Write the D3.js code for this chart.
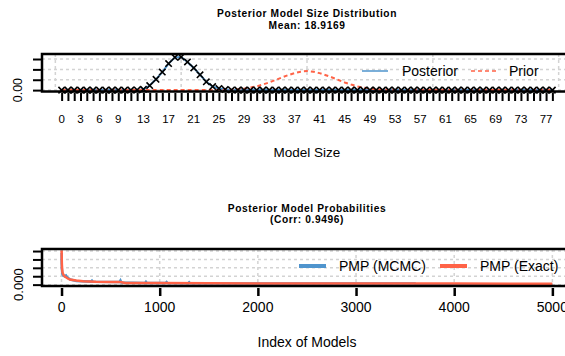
<!DOCTYPE html>
<html lang="en">

<head>
	<meta charset="utf-8">
	<title>BMS plot</title>
	<style>
		html, body { margin: 0; padding: 0; background: #ffffff; }
		svg { display: block; font-family: "Liberation Sans", Arial, sans-serif; }
	</style>
</head>

<body>
	<script src="https://cdn.jsdelivr.net/npm/d3@7"></script>
	<script>

		// top panel: model size 0..78
		const modelSizes = d3.range(0, 79);
		const posterior = [
			0, 0, 0, 0, 0, 0, 0, 0, 0, 0,
			0, 0.0002, 0.001, 0.004, 0.022, 0.052, 0.087, 0.128, 0.158, 0.160,
			0.136, 0.107, 0.074, 0.040, 0.017, 0.008, 0.003, 0.001, 0, 0,
			0, 0, 0, 0, 0, 0, 0, 0, 0, 0,
			0, 0, 0, 0, 0, 0, 0, 0, 0, 0,
			0, 0, 0, 0, 0, 0, 0, 0, 0, 0,
			0, 0, 0, 0, 0, 0, 0, 0, 0, 0,
			0, 0, 0, 0, 0, 0, 0, 0, 0
		];
		const prior = [
			0, 0, 0, 0, 0, 0, 0, 0, 0, 0,
			0, 0, 0, 0, 0, 0, 0, 0, 0, 0,
			0, 0, 0, 0, 0, 0, 0.001, 0.002, 0.004, 0.007,
			0.012, 0.018, 0.027, 0.037, 0.049, 0.061, 0.072, 0.082, 0.089, 0.092,
			0.089, 0.082, 0.072, 0.061, 0.049, 0.037, 0.027, 0.018, 0.012, 0.007,
			0.004, 0.002, 0.001, 0, 0, 0, 0, 0, 0, 0,
			0, 0, 0, 0, 0, 0, 0, 0, 0, 0,
			0, 0, 0, 0, 0, 0, 0, 0, 0
		];
		const sizeLabels = [0, 3, 6, 9, 13, 17, 21, 25, 29, 33, 37, 41, 45, 49, 53, 57, 61, 65, 69, 73, 77];
		const sizeYTicks = [0, 0.05, 0.10, 0.15];
		const sizeYMax = 0.1675;
		const sizeGridX = [-1, 19, 39, 59, 79];

		// bottom panel: model index 1..5000 (readings along the curve)
		const mcmcIndex = [1, 2, 4, 8, 15, 30, 45, 60, 90, 150, 300, 310, 320, 590, 600, 610, 850, 860, 870, 1060, 1070, 1080, 1290, 1300, 1310, 2000, 3000, 3600, 3610, 5000];
		const mcmcPmp = [0.019, 0.012, 0.009, 0.0065, 0.0055, 0.0050, 0.0055, 0.0042, 0.0030, 0.0022, 0.0018, 0.0024, 0.0017, 0.0015, 0.0025, 0.0012, 0.0010, 0.0017, 0.0010, 0.0009, 0.0015, 0.0009, 0.0008, 0.0014, 0.0008, 0.0007, 0.0006, 0.0006, 0, 0];
		const exactIndex = [1, 2, 3, 5, 10, 20, 35, 60, 85, 150, 220, 350, 500, 600, 650, 1000, 1500, 2000, 3000, 4000, 5000];
		const exactPmp = [0.0204, 0.016, 0.013, 0.010, 0.0072, 0.0058, 0.0048, 0.0038, 0.0030, 0.0024, 0.0020, 0.0017, 0.0016, 0.0015, 0.0010, 0.0009, 0.0008, 0.0007, 0.0006, 0.0006, 0.0005];
		const pmpXTicks = [0, 1000, 2000, 3000, 4000, 5000];
		const pmpYTicks = [0, 0.005, 0.010, 0.015, 0.020];
		const pmpYMax = 0.0204;

		const blue = "#4f94cd";
		const red = "#ff6347";
		const grid = "#d3d3d3";

		const W = 565, H = 356;
		const left = 42, right = 572;

		const svg = d3.select("body")
			.append("svg")
			.attr("width", W)
			.attr("height", H);

		function pad(lo, hi) {
			const r = hi - lo;
			return [lo - 0.04 * r, hi + 0.04 * r];
		}

		function title(lines, y1, y2) {
			lines.forEach((t, i) => {
				svg.append("text")
					.attr("x", (left + right) / 2)
					.attr("y", i === 0 ? y1 : y2)
					.attr("text-anchor", "middle")
					.attr("font-weight", "bold")
					.attr("font-size", "10.2px")
					.attr("letter-spacing", "0.6px")
					.text(t);
			});
		}

		function drawGrid(g, x, y, xs, ys, top, bottom) {
			g.selectAll("line.gx")
				.data(xs)
				.enter().append("line")
				.attr("class", "gx")
				.attr("x1", (d) => x(d)).attr("x2", (d) => x(d))
				.attr("y1", top).attr("y2", bottom)
				.attr("stroke", grid).attr("stroke-width", 1.5)
				.attr("stroke-dasharray", "3,3");
			g.selectAll("line.gy")
				.data(ys)
				.enter().append("line")
				.attr("class", "gy")
				.attr("x1", left).attr("x2", right)
				.attr("y1", (d) => y(d)).attr("y2", (d) => y(d))
				.attr("stroke", grid).attr("stroke-width", 1.5)
				.attr("stroke-dasharray", "3,3");
		}

		function styleAxis(g, w) {
			g.select(".domain").remove();
			g.selectAll(".tick line").attr("stroke", "#000").attr("stroke-width", w);
			g.selectAll(".tick text").remove();
		}

		function box(top, bottom) {
			svg.append("rect")
				.attr("x", left).attr("y", top)
				.attr("width", right - left).attr("height", bottom - top)
				.attr("fill", "none")
				.attr("stroke", "#000")
				.attr("stroke-width", 2.5);
		}

		// ---------------- top panel ----------------
		title(["Posterior Model Size Distribution", "Mean: 18.9169"], 16.8, 28.6);

		const t1 = 54, b1 = 91.5;
		const x1 = d3.scaleLinear().domain(pad(0, 78)).range([left, right]);
		const y1 = d3.scaleLinear().domain(pad(0, sizeYMax)).range([b1, t1]);

		const g1 = svg.append("g");
		drawGrid(g1, x1, y1, sizeGridX, sizeYTicks, t1, b1);

		const line1 = d3.line()
			.x((d, i) => x1(modelSizes[i]))
			.y((d) => y1(d));

		g1.append("path")
			.datum(posterior)
			.attr("d", line1)
			.attr("fill", "none")
			.attr("stroke", blue)
			.attr("stroke-width", 2);

		g1.append("path")
			.datum(prior)
			.attr("d", line1)
			.attr("fill", "none")
			.attr("stroke", red)
			.attr("stroke-width", 2)
			.attr("stroke-dasharray", "4,3");

		const s = 3.2;
		g1.selectAll("path.cross")
			.data(posterior)
			.enter().append("path")
			.attr("class", "cross")
			.attr("d", (d, i) => {
				const cx = x1(modelSizes[i]), cy = y1(d);
				return `M${cx - s},${cy - s}L${cx + s},${cy + s}M${cx - s},${cy + s}L${cx + s},${cy - s}`;
			})
			.attr("stroke", "#000")
			.attr("stroke-width", 1.6);

		svg.append("g")
			.attr("transform", "translate(0,93)")
			.call(d3.axisBottom(x1).tickValues(modelSizes).tickSize(8))
			.call((g) => styleAxis(g, 2));

		svg.selectAll("text.sl")
			.data(sizeLabels)
			.enter().append("text")
			.attr("class", "sl")
			.attr("x", (d) => x1(d))
			.attr("y", 123)
			.attr("text-anchor", "middle")
			.attr("font-size", "11.5px")
			.text((d) => d);

		svg.append("g")
			.attr("transform", `translate(${left},0)`)
			.call(d3.axisLeft(y1).tickValues(sizeYTicks).tickSize(9))
			.call((g) => styleAxis(g, 2));

		svg.append("text")
			.attr("transform", `translate(22,${y1(0)}) rotate(-90)`)
			.attr("text-anchor", "middle")
			.attr("font-size", "12.5px")
			.text("0.00");

		box(t1, b1);

		svg.append("text")
			.attr("x", (left + right) / 2)
			.attr("y", 157.3)
			.attr("text-anchor", "middle")
			.attr("font-size", "13.5px")
			.text("Model Size");

		// legend
		svg.append("line")
			.attr("x1", 362).attr("x2", 388).attr("y1", 71).attr("y2", 71)
			.attr("stroke", blue).attr("stroke-width", 1.5);
		svg.append("text")
			.attr("x", 402).attr("y", 76)
			.attr("font-size", "14px")
			.text("Posterior");
		svg.append("line")
			.attr("x1", 471).attr("x2", 497).attr("y1", 71).attr("y2", 71)
			.attr("stroke", red).attr("stroke-width", 1.5)
			.attr("stroke-dasharray", "4,3");
		svg.append("text")
			.attr("x", 509).attr("y", 76)
			.attr("font-size", "14px")
			.text("Prior");

		// ---------------- bottom panel ----------------
		title(["Posterior Model Probabilities", "(Corr: 0.9496)"], 211.8, 223.4);

		const t2 = 249, b2 = 286;
		const x2 = d3.scaleLinear().domain(pad(1, 5000)).range([left, right]);
		const y2 = d3.scaleLinear().domain(pad(0, pmpYMax)).range([b2, t2]);

		const g2 = svg.append("g");
		drawGrid(g2, x2, y2, pmpXTicks, pmpYTicks, t2, b2);

		g2.append("path")
			.datum(mcmcPmp)
			.attr("d", d3.line().x((d, i) => x2(mcmcIndex[i])).y((d) => y2(d)))
			.attr("fill", "none")
			.attr("stroke", blue)
			.attr("stroke-width", 2.5);

		g2.append("path")
			.datum(exactPmp)
			.attr("d", d3.line().x((d, i) => x2(exactIndex[i])).y((d) => y2(d)))
			.attr("fill", "none")
			.attr("stroke", red)
			.attr("stroke-width", 2.5);

		svg.append("g")
			.attr("transform", "translate(0,288)")
			.call(d3.axisBottom(x2).tickValues(pmpXTicks).tickSize(8))
			.call((g) => styleAxis(g, 2.5));

		svg.selectAll("text.pl")
			.data(pmpXTicks)
			.enter().append("text")
			.attr("class", "pl")
			.attr("x", (d) => x2(d))
			.attr("y", 312)
			.attr("text-anchor", "middle")
			.attr("font-size", "14px")
			.text((d) => d);

		svg.append("g")
			.attr("transform", `translate(${left},0)`)
			.call(d3.axisLeft(y2).tickValues(pmpYTicks).tickSize(9))
			.call((g) => styleAxis(g, 2));

		svg.append("text")
			.attr("transform", `translate(22.5,${y2(0)}) rotate(-90)`)
			.attr("text-anchor", "middle")
			.attr("font-size", "13px")
			.text("0.000");

		box(t2, b2);

		svg.append("text")
			.attr("x", (left + right) / 2)
			.attr("y", 346.7)
			.attr("text-anchor", "middle")
			.attr("font-size", "14px")
			.text("Index of Models");

		// legend
		svg.append("line")
			.attr("x1", 299).attr("x2", 326).attr("y1", 266).attr("y2", 266)
			.attr("stroke", blue).attr("stroke-width", 4);
		svg.append("text")
			.attr("x", 339).attr("y", 271)
			.attr("font-size", "14px")
			.text("PMP (MCMC)");
		svg.append("line")
			.attr("x1", 440).attr("x2", 467).attr("y1", 266).attr("y2", 266)
			.attr("stroke", red).attr("stroke-width", 4);
		svg.append("text")
			.attr("x", 480).attr("y", 271)
			.attr("font-size", "14px")
			.text("PMP (Exact)");

	</script>
</body>

</html>
